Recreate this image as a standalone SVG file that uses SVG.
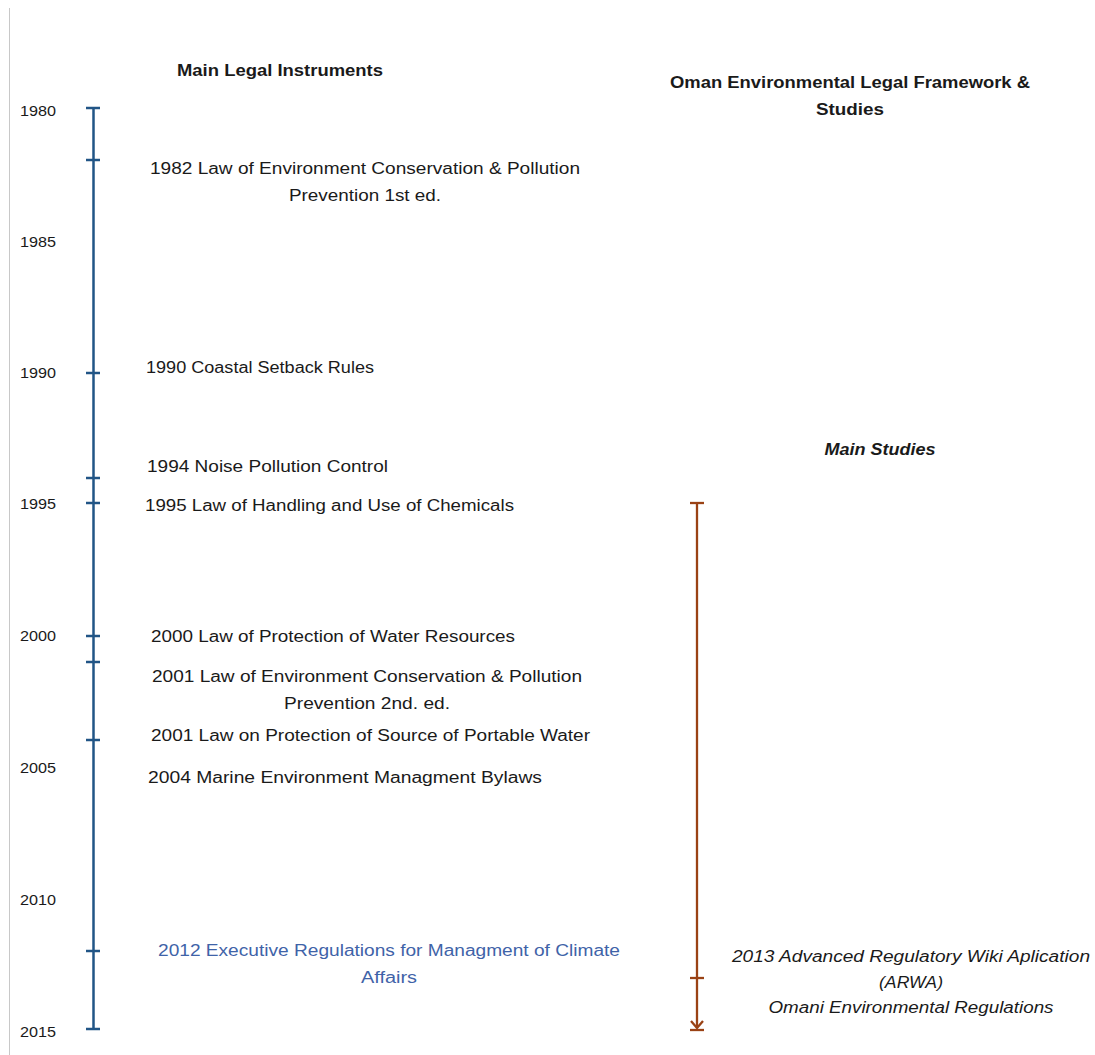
<svg xmlns="http://www.w3.org/2000/svg" width="1095" height="1055" viewBox="0 0 1095 1055">
  <style>
    .t { font-family: "Liberation Sans", Arial, sans-serif; font-size: 16px; fill: #1a1a1a; }
    .yr { font-family: "Liberation Sans", Arial, sans-serif; font-size: 15px; fill: #1a1a1a; }
    .hd { font-family: "Liberation Sans", Arial, sans-serif; font-size: 16px; font-weight: bold; fill: #1a1a1a; }
    .it { font-family: "Liberation Sans", Arial, sans-serif; font-size: 16px; font-style: italic; fill: #1a1a1a; }
    .mid { text-anchor: middle; }
    .blue { fill: #3f63a8; }
    .axis { stroke: #215586; stroke-width: 2.5; fill: none; }
    .studies { stroke: #9a4215; stroke-width: 2.3; fill: none; }
  </style>
  <defs>
    <!-- open arrowhead, drawn along +x so orient="auto" follows the line -->
    <marker id="arrowDown" markerWidth="14" markerHeight="14" refX="12" refY="7" orient="auto" markerUnits="userSpaceOnUse">
      <path d="M5,1 L12,7 L5,13" stroke="#9a4215" stroke-width="2.3" fill="none"/>
    </marker>
  </defs>
  <rect width="1095" height="1055" fill="#ffffff"/>
  <!-- page edge -->
  <line x1="9.5" y1="8" x2="9.5" y2="1055" stroke="#c8c8c8" stroke-width="1"/>

  <!-- column headings -->
  <g id="heading-legal">
    <text class="hd mid" x="280" y="76" textLength="206" lengthAdjust="spacingAndGlyphs">Main Legal Instruments</text>
  </g>
  <g id="heading-framework">
    <text class="hd mid" x="850" y="88" textLength="360" lengthAdjust="spacingAndGlyphs">Oman Environmental Legal Framework &amp;</text>
    <text class="hd mid" x="850" y="115" textLength="68" lengthAdjust="spacingAndGlyphs">Studies</text>
  </g>
  <g id="heading-studies">
    <text class="hd mid" x="880" y="455" font-style="italic" textLength="111" lengthAdjust="spacingAndGlyphs">Main Studies</text>
  </g>

  <!-- year scale -->
  <g id="years">
    <text class="yr" x="20" y="116" textLength="36" lengthAdjust="spacingAndGlyphs">1980</text>
    <text class="yr" x="20" y="247" textLength="36" lengthAdjust="spacingAndGlyphs">1985</text>
    <text class="yr" x="20" y="378" textLength="36" lengthAdjust="spacingAndGlyphs">1990</text>
    <text class="yr" x="20" y="509" textLength="36" lengthAdjust="spacingAndGlyphs">1995</text>
    <text class="yr" x="20" y="641" textLength="36" lengthAdjust="spacingAndGlyphs">2000</text>
    <text class="yr" x="20" y="773" textLength="36" lengthAdjust="spacingAndGlyphs">2005</text>
    <text class="yr" x="20" y="905" textLength="36" lengthAdjust="spacingAndGlyphs">2010</text>
    <text class="yr" x="20" y="1037" textLength="36" lengthAdjust="spacingAndGlyphs">2015</text>
  </g>

  <!-- timelines -->
  <g id="connectors">
    <g id="legal-axis">
      <line class="axis" x1="93.5" y1="108" x2="93.5" y2="1029"/>
      <line class="axis" x1="86" y1="108" x2="100" y2="108"/>
      <line class="axis" x1="86" y1="160" x2="100" y2="160"/>
      <line class="axis" x1="86" y1="373" x2="100" y2="373"/>
      <line class="axis" x1="86" y1="478" x2="100" y2="478"/>
      <line class="axis" x1="86" y1="503" x2="100" y2="503"/>
      <line class="axis" x1="86" y1="636" x2="100" y2="636"/>
      <line class="axis" x1="86" y1="662" x2="100" y2="662"/>
      <line class="axis" x1="86" y1="740" x2="100" y2="740"/>
      <line class="axis" x1="86" y1="951" x2="100" y2="951"/>
      <line class="axis" x1="86" y1="1029" x2="100" y2="1029"/>
    </g>
    <g id="studies-axis">
      <line class="studies" x1="697" y1="503" x2="697" y2="1028" marker-end="url(#arrowDown)"/>
      <line class="studies" x1="690" y1="503" x2="704" y2="503"/>
      <line class="studies" x1="690" y1="978" x2="704" y2="978"/>
      <line class="studies" x1="690" y1="1030" x2="704" y2="1030"/>
    </g>
  </g>

  <!-- legal instruments -->
  <g id="law-1982">
    <text class="t mid" x="365" y="174" textLength="430" lengthAdjust="spacingAndGlyphs">1982 Law of Environment Conservation &amp; Pollution</text>
    <text class="t mid" x="365" y="201" textLength="152" lengthAdjust="spacingAndGlyphs">Prevention 1st ed.</text>
  </g>
  <g id="law-1990">
    <text class="t" x="146" y="373" textLength="228" lengthAdjust="spacingAndGlyphs">1990 Coastal Setback Rules</text>
  </g>
  <g id="law-1994">
    <text class="t" x="147" y="472" textLength="241" lengthAdjust="spacingAndGlyphs">1994 Noise Pollution Control</text>
  </g>
  <g id="law-1995">
    <text class="t" x="145" y="511" textLength="369" lengthAdjust="spacingAndGlyphs">1995 Law of Handling and Use of Chemicals</text>
  </g>
  <g id="law-2000">
    <text class="t" x="151" y="642" textLength="364" lengthAdjust="spacingAndGlyphs">2000 Law of Protection of Water Resources</text>
  </g>
  <g id="law-2001-pollution">
    <text class="t mid" x="367" y="682" textLength="430" lengthAdjust="spacingAndGlyphs">2001 Law of Environment Conservation &amp; Pollution</text>
    <text class="t mid" x="367" y="709" textLength="166" lengthAdjust="spacingAndGlyphs">Prevention 2nd. ed.</text>
  </g>
  <g id="law-2001-water">
    <text class="t" x="151" y="741" textLength="439" lengthAdjust="spacingAndGlyphs">2001 Law on Protection of Source of Portable Water</text>
  </g>
  <g id="law-2004">
    <text class="t" x="148" y="783" textLength="394" lengthAdjust="spacingAndGlyphs">2004 Marine Environment Managment Bylaws</text>
  </g>
  <g id="law-2012">
    <text class="t mid blue" x="389" y="956" textLength="462" lengthAdjust="spacingAndGlyphs">2012 Executive Regulations for Managment of Climate</text>
    <text class="t mid blue" x="389" y="983" textLength="56" lengthAdjust="spacingAndGlyphs">Affairs</text>
  </g>

  <!-- studies -->
  <g id="study-2013">
    <text class="it mid" x="911" y="962" textLength="358" lengthAdjust="spacingAndGlyphs">2013 Advanced Regulatory Wiki Aplication</text>
    <text class="it mid" x="911" y="988" textLength="64" lengthAdjust="spacingAndGlyphs">(ARWA)</text>
    <text class="it mid" x="911" y="1013" textLength="285" lengthAdjust="spacingAndGlyphs">Omani Environmental Regulations</text>
  </g>
</svg>
